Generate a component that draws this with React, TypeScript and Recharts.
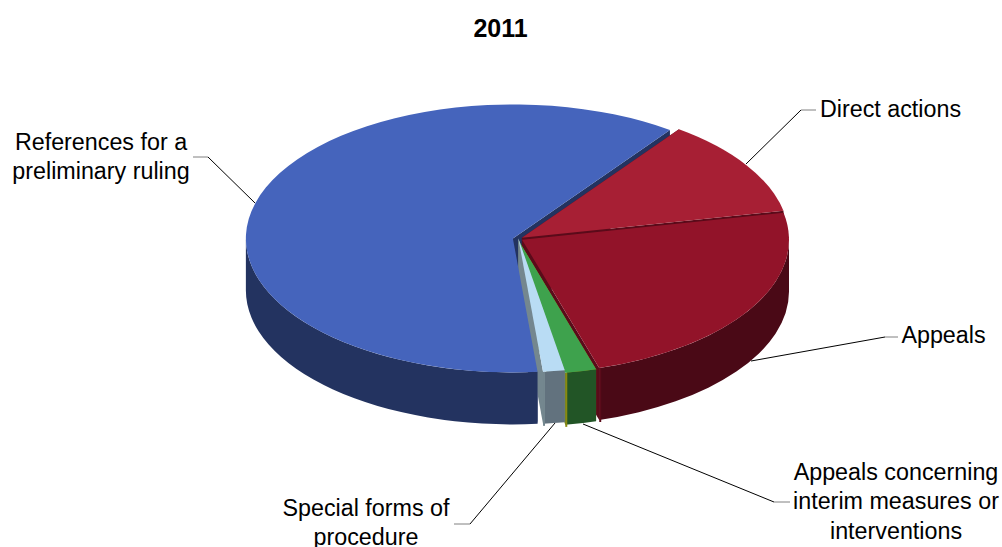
import { PieChart, Pie } from "recharts";

// Court cases brought in 2011
const categories = [
  "References for a preliminary ruling",
  "Direct actions",
  "Appeals",
  "Appeals concerning interim measures or interventions",
  "Special forms of procedure",
];
const values = [423, 81, 162, 13, 9];

const topColors = ["#4564BC", "#A71F34", "#921329", "#3EA24D", "#B9DCF4"];
const sideColors = ["#233360", "#5A0B1A", "#4A0916", "#225526", "#62727E"];
const edgeColors = ["#233360", "#5A0B1A", "#5A0B1A", "#8A8A10", "#74878F"];
// small vertical nudge of each exploded slice
const sliceLift = [0, -0.7, 1.3, 2.5, 0];

const labelLines = [
  ["References for a", "preliminary ruling"],
  ["Direct actions"],
  ["Appeals"],
  ["Appeals concerning", "interim measures or", "interventions"],
  ["Special forms of", "procedure"],
];
const labelAnchors = [
  [101, 150],
  [890.5, 117],
  [943.5, 343],
  [896, 480],
  [366, 516],
];
const leaders = [
  "255,203 208,157",
  "746,164 801,110",
  "751,361 885,337",
  "583,424 774,502",
  "555,423 470,524",
];
const leaderEnds = [
  "208,157 193,157",
  "801,110 816,110",
  "885,337 898,337",
  "774,502 790,502",
  "470,524 454,524",
];

const W = 1002;
const H = 547;
const CX = 517.7;
const CY = 238.4;
const RX = 267;
const SQUASH = 134 / 267;
const DEPTH = 52;
const EXPLODE = 5;
const FONT = "Liberation Sans, Arial, sans-serif";

const data = categories.map((name, i) => ({ name, value: values[i] }));

const rad = (a: number) => (a * Math.PI) / 180;

function geom(p: any) {
  const lo = Math.min(p.startAngle, p.endAngle);
  const hi = Math.max(p.startAngle, p.endAngle);
  const mid = rad((lo + hi) / 2);
  const r = p.outerRadius;
  const ry = r * SQUASH;
  const x0 = p.cx + EXPLODE * Math.cos(mid);
  const y0 = p.cy + sliceLift[p.index];
  const pt = (a: number, d = 0) => [
    x0 + r * Math.cos(rad(a)),
    y0 - ry * Math.sin(rad(a)) + d,
  ];
  return { lo, hi, r, ry, x0, y0, pt };
}

function TopFace(p: any) {
  const { lo, hi, r, ry, x0, y0, pt } = geom(p);
  const [ax, ay] = pt(hi);
  const [bx, by] = pt(lo);
  const large = hi - lo > 180 ? 1 : 0;
  const d = `M${x0},${y0} L${ax},${ay} A${r},${ry} 0 ${large} 1 ${bx},${by} Z`;
  return <path d={d} fill={topColors[p.index]} />;
}

function EdgeWalls(p: any) {
  const { lo, hi, x0, y0, pt } = geom(p);
  const poly = (a: number) => {
    const [x, y] = pt(a);
    return `${x0},${y0} ${x},${y} ${x},${y + DEPTH} ${x0},${y0 + DEPTH}`;
  };
  return (
    <g fill={edgeColors[p.index]}>
      <polygon points={poly(lo)} />
      <polygon points={poly(hi)} />
    </g>
  );
}

function OuterWall(p: any) {
  const { lo, hi, r, ry, pt } = geom(p);
  const parts: any[] = [];
  for (const k of [-1, 0]) {
    const from = Math.max(lo, 180 + 360 * k);
    const to = Math.min(hi, 360 + 360 * k);
    if (to <= from) continue;
    const [ax, ay] = pt(from);
    const [bx, by] = pt(to);
    const large = to - from > 180 ? 1 : 0;
    parts.push(
      <path
        key={k}
        fill={sideColors[p.index]}
        d={`M${ax},${ay} A${r},${ry} 0 ${large} 0 ${bx},${by} L${bx},${by + DEPTH} A${r},${ry} 0 ${large} 1 ${ax},${ay + DEPTH} Z`}
      />
    );
    // thin sliver of the cut face at the slice's left end
    if (from > 180 + 360 * k) {
      parts.push(
        <line
          key={`edge${k}`}
          x1={ax + 1}
          y1={ay}
          x2={ax + 1}
          y2={ay + DEPTH + 2}
          stroke={edgeColors[p.index]}
          strokeWidth={2}
        />
      );
    }
  }
  return <g>{parts}</g>;
}

function renderLabel(p: any) {
  const i = p.index;
  const [x, y] = labelAnchors[i];
  return (
    <g key={i}>
      <polyline points={leaders[i]} fill="none" stroke="#000" strokeWidth={1} />
      <polyline points={leaderEnds[i]} fill="none" stroke="#808080" strokeWidth={1} />
      <text x={x} y={y} textAnchor="middle" fontFamily={FONT} fontSize={23.3} fill="#000">
        {labelLines[i].map((line, j) => (
          <tspan key={j} x={x} dy={j === 0 ? 0 : 29.3}>
            {line}
          </tspan>
        ))}
      </text>
    </g>
  );
}

const pieProps = {
  data,
  dataKey: "value",
  nameKey: "name",
  cx: CX,
  cy: CY,
  innerRadius: 0,
  outerRadius: RX,
  startAngle: 275.3,
  endAngle: -84.7,
  stroke: "none",
  isAnimationActive: false,
  labelLine: false,
};

export default function App() {
  return (
    <div style={{ position: "absolute", left: 0, top: 0, width: W, height: H }}>
      <PieChart width={W} height={H} margin={{ top: 0, right: 0, bottom: 0, left: 0 }}>
        <text x={500.5} y={37} textAnchor="middle" fontFamily={FONT} fontSize={25} fontWeight="bold" fill="#000">
          2011
        </text>
        <Pie {...pieProps} shape={EdgeWalls} label={false} />
        <Pie {...pieProps} shape={OuterWall} label={false} />
        <Pie {...pieProps} shape={TopFace} label={renderLabel} />
      </PieChart>
    </div>
  );
}
